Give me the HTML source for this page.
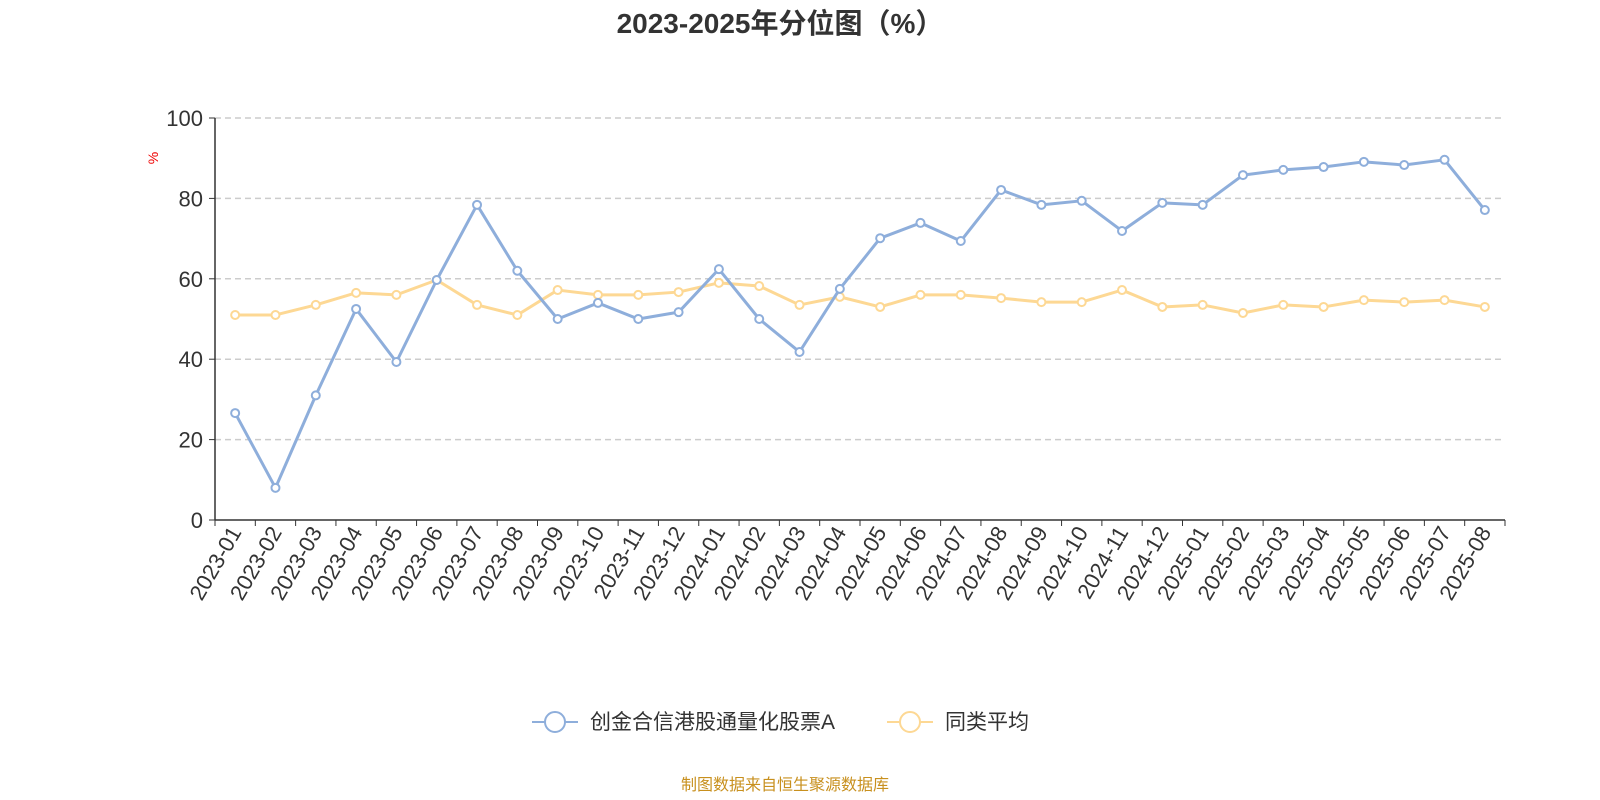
<!DOCTYPE html>
<html><head><meta charset="utf-8">
<style>
html,body{margin:0;padding:0;background:#fff;}
svg{display:block;font-family:"Liberation Sans","Noto Sans CJK SC",sans-serif;}
</style></head>
<body>
<svg id="chart" width="1600" height="800" viewBox="0 0 1600 800">
<text x="780" y="33" text-anchor="middle" font-size="28" font-weight="bold" fill="#333">2023-2025年分位图（%）</text>
<text x="0" y="0" transform="translate(158,158) rotate(-90)" text-anchor="middle" font-size="14" fill="#e00">%</text>
<g id="grid"></g>
<g id="axes"></g>
<g id="series"></g>
<g>
  <g>
    <line x1="532" y1="722" x2="578" y2="722" stroke="#8eaedb" stroke-width="2"/>
    <circle cx="555" cy="722" r="10" fill="#fff" stroke="#8eaedb" stroke-width="2"/>
    <text x="590" y="729" font-size="21" fill="#333">创金合信港股通量化股票A</text>
  </g>
  <g>
    <line x1="887" y1="722" x2="933" y2="722" stroke="#fdd894" stroke-width="2"/>
    <circle cx="910" cy="722" r="10" fill="#fff" stroke="#fdd894" stroke-width="2"/>
    <text x="945" y="729" font-size="21" fill="#333">同类平均</text>
  </g>
</g>
<text x="785" y="790" text-anchor="middle" font-size="16" fill="#c8901e">制图数据来自恒生聚源数据库</text>
</svg>
<script>
const categories = ["2023-01","2023-02","2023-03","2023-04","2023-05","2023-06","2023-07","2023-08","2023-09","2023-10","2023-11","2023-12","2024-01","2024-02","2024-03","2024-04","2024-05","2024-06","2024-07","2024-08","2024-09","2024-10","2024-11","2024-12","2025-01","2025-02","2025-03","2025-04","2025-05","2025-06","2025-07","2025-08"];
const fundValues = [26.6,8,31,52.5,39.3,59.7,78.4,62,50,54,50,51.7,62.4,50,41.8,57.5,70.1,73.9,69.4,82.1,78.4,79.4,71.9,78.9,78.4,85.8,87.1,87.8,89.1,88.3,89.6,77.1];
const avgValues = [51,51,53.5,56.5,56,59.7,53.5,51,57.2,56,56,56.7,59,58.2,53.5,55.5,53,56,56,55.2,54.2,54.2,57.2,53,53.5,51.5,53.5,53,54.7,54.2,54.7,53];
const yTicks = [0,20,40,60,80,100];

const NS="http://www.w3.org/2000/svg";
const X0=215,X1=1505,Y0=520,Y1=118;
const bw=(X1-X0)/categories.length;
const xPos=i=>X0+bw*(i+0.5);
const yPos=v=>Y0-(v/100)*(Y0-Y1);
function mk(tag,attrs,parent){const e=document.createElementNS(NS,tag);for(const k in attrs)e.setAttribute(k,attrs[k]);parent.appendChild(e);return e;}
const grid=document.getElementById('grid'),axes=document.getElementById('axes'),series=document.getElementById('series');

yTicks.forEach(t=>{
  const y=yPos(t);
  if(t>0){const g=mk('line',{x1:X0,x2:X1,y1:y,y2:y,stroke:'#ccc','stroke-width':1.5,'stroke-dasharray':'6,4'},grid);
  
  }
  const tk=mk('line',{x1:X0-6,x2:X0,y1:y,y2:y,stroke:'#333'},axes);
  
  
  const lb=mk('text',{x:X0-12,y:y+8,'text-anchor':'end','font-size':22,fill:'#333'},axes);
  lb.textContent=t;
  
  
});
const ya=mk('line',{x1:X0,x2:X0,y1:Y1,y2:Y0,stroke:'#333','stroke-width':1.5},axes);


const xa=mk('line',{x1:X0,x2:X1,y1:Y0,y2:Y0,stroke:'#333','stroke-width':1.5},axes);


for(let i=0;i<=categories.length;i++){
  const x=X0+bw*i;
  const t=mk('line',{x1:x,x2:x,y1:Y0,y2:Y0+6,stroke:'#333'},axes);
  
  
}
categories.forEach((c,i)=>{
  const x=xPos(i)+7,y=Y0+12;
  const lb=mk('text',{x:0,y:0,transform:`translate(${x},${y}) rotate(-60)`,'text-anchor':'end','font-size':22,fill:'#333'},axes);
  lb.textContent=c;
  
  
});
function drawSeries(vals,color,name){
  const pts=vals.map((v,i)=>xPos(i)+','+yPos(v)).join(' ');
  const pl=mk('polyline',{points:pts,fill:'none',stroke:color,'stroke-width':3,'stroke-linejoin':'round'},series);
  
  
  vals.forEach((v,i)=>{
    const c=mk('circle',{cx:xPos(i),cy:yPos(v),r:4,fill:'#fff',stroke:color,'stroke-width':2},series);
    
    
  });
}
drawSeries(avgValues,'#fdd894','average');
drawSeries(fundValues,'#8eaedb','fund');
</script>
</body></html>
